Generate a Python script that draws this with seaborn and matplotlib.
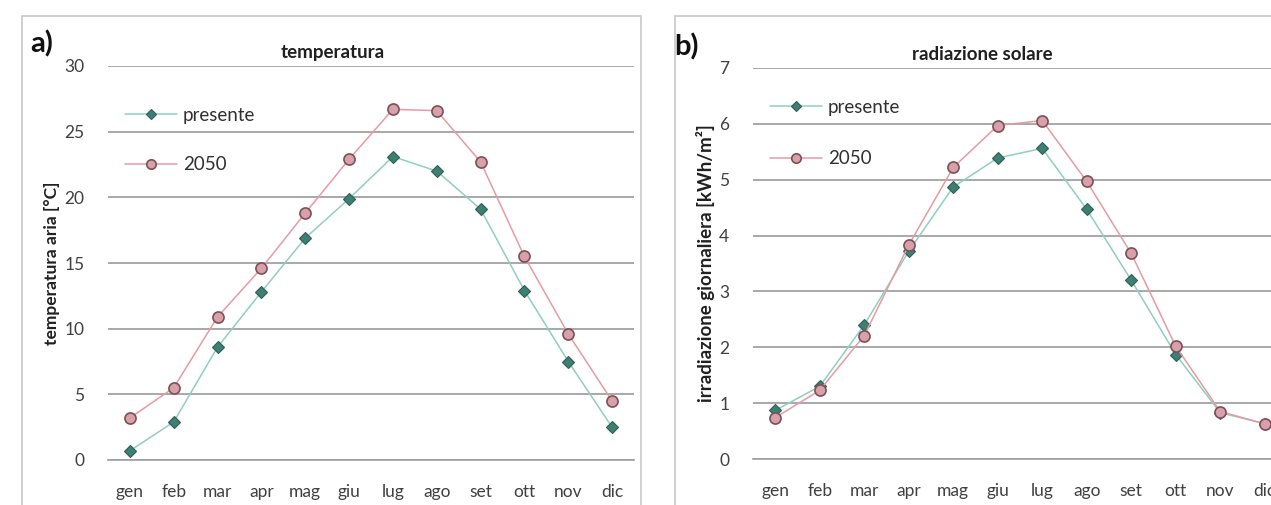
import matplotlib
matplotlib.use("Agg")
import matplotlib.pyplot as plt
from matplotlib.patches import Rectangle
from matplotlib.ticker import MultipleLocator
import seaborn as sns
import pandas as pd

mesi = ["gen", "feb", "mar", "apr", "mag", "giu", "lug", "ago", "set", "ott", "nov", "dic"]
temp_presente = [0.7, 2.9, 8.6, 12.8, 16.9, 19.9, 23.1, 22.0, 19.1, 12.9, 7.5, 2.5]
temp_2050 = [3.2, 5.5, 10.9, 14.6, 18.8, 22.9, 26.7, 26.6, 22.7, 15.5, 9.6, 4.5]
rad_presente = [0.87, 1.3, 2.4, 3.72, 4.87, 5.39, 5.56, 4.47, 3.2, 1.87, 0.83, 0.63]
rad_2050 = [0.74, 1.23, 2.21, 3.83, 5.22, 5.97, 6.06, 4.97, 3.68, 2.02, 0.85, 0.63]

sns.set_theme(style="white")
plt.rcParams['font.family'] = ['Lato', 'DejaVu Sans']

W, H = 1271, 505
fig = plt.figure(figsize=(W / 100, H / 100), dpi=100)

# panel frames (pixel coords -> figure fraction)
def frame(x0, y0, x1, y1):
    fig.patches.append(Rectangle((x0 / W, 1 - y1 / H), (x1 - x0) / W, (y1 - y0) / H,
                                 transform=fig.transFigure, fill=False,
                                 edgecolor="#c8c8c8", linewidth=1.2))

frame(22, 16, 641, 520)
frame(675, 16, 1290, 520)

def pannello(rect, pres, fut, ymax, ystep, ylabel, ylab_size, title, title_x,
             lettera, leg_y, leg_sp):
    ax = fig.add_axes(rect)
    df = pd.DataFrame({"mese": mesi * 2, "valore": pres + fut,
                       "serie": ["presente"] * 12 + ["2050"] * 12})
    sns.lineplot(data=df[df.serie == "presente"], x="mese", y="valore", ax=ax,
                 color="#8fcfbf", linewidth=1.1, marker="D", markersize=6,
                 markerfacecolor="#3d7f70", markeredgecolor="#2f5f5a",
                 markeredgewidth=0.8, label="presente")
    sns.lineplot(data=df[df.serie == "2050"], x="mese", y="valore", ax=ax,
                 color="#e79aa6", linewidth=1.1, marker="o", markersize=8,
                 markerfacecolor="#d7a0aa", markeredgecolor="#7d5058",
                 markeredgewidth=1.2, label="2050")
    ax.set_xlim(-0.5, 11.5)
    ax.set_ylim(0, ymax)
    ax.yaxis.set_major_locator(MultipleLocator(ystep))
    ax.grid(axis="y", color="#999999", linewidth=1.2)
    ax.set_axisbelow(True)
    for s in ["top", "right", "left"]:
        ax.spines[s].set_visible(False)
    ax.spines["bottom"].set_color("#a0a0a0")
    ax.spines["bottom"].set_linewidth(1.2)
    ax.set_xticks(range(12))
    ax.set_xticklabels(mesi)
    ax.set_xticks([i - 0.5 for i in range(13)], minor=True)
    ax.tick_params(axis="x", which="major", length=0, pad=17, labelsize=12.5, colors="#404040")
    ax.tick_params(axis="x", which="minor", length=4, width=1, color="#b0b0b0", direction="out")
    ax.tick_params(axis="y", length=0, pad=17, labelsize=12.5, colors="#404040")
    ax.set_xlabel("")
    ax.set_ylabel(ylabel, fontsize=ylab_size, fontweight="bold", color="#202020", labelpad=3)
    ax.text(title_x, 1.035, title, transform=ax.transAxes, fontsize=13.5,
            fontweight="bold", color="#202020", ha="center", va="center")
    ax.text(-0.148, 1.055, lettera, transform=ax.transAxes, fontsize=21,
            fontweight="bold", color="#101010", ha="left", va="center")
    ax.legend(loc="upper left", bbox_to_anchor=(0.0, leg_y), frameon=False,
              fontsize=13.5, labelspacing=leg_sp, handlelength=2.8, handletextpad=0.3,
              labelcolor="#303030", markerscale=0.85)
    return ax

pannello([108 / W, 1 - 460 / H, 526 / W, 394 / H], temp_presente, temp_2050,
         30, 5, "temperatura aria [°C]", 12.5, "temperatura", 0.428, "a)", 0.94, 1.75)
pannello([753 / W, 1 - 459 / H, 534 / W, 391 / H], rad_presente, rad_2050,
         7, 1, "irradiazione giornaliera [kWh/m²]", 13.5, "radiazione solare", 0.43,
         "b)", 0.965, 1.85)

fig.savefig("out.png", dpi=100)
